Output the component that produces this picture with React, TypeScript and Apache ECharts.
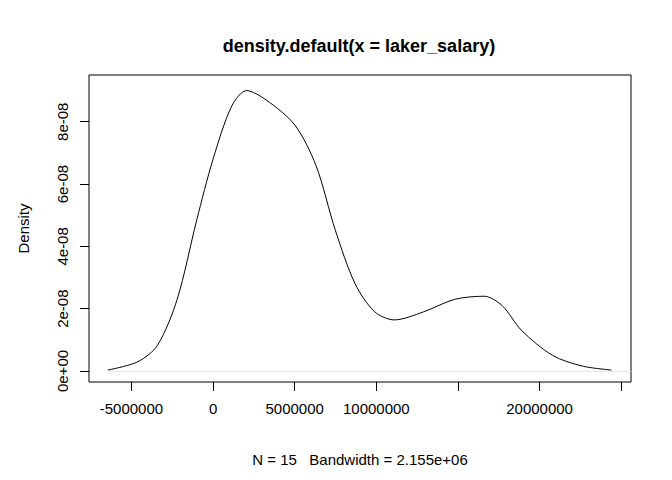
import React, { useEffect, useRef } from 'react';
import * as echarts from 'echarts';

const salaryX = [-6450000, -4600000, -3400000, -2200000, -1000000, 0, 1140000, 2050000, 3250000, 5000000, 6300000, 7500000, 8700000, 9900000, 11100000, 12900000, 14800000, 16600000, 17700000, 18900000, 20800000, 22600000, 24400000];
const densityY = [0.03e-8, 0.3e-8, 0.83e-8, 2.3e-8, 4.85e-8, 6.8e-8, 8.5e-8, 9.0e-8, 8.7e-8, 7.9e-8, 6.6e-8, 4.5e-8, 2.8e-8, 1.9e-8, 1.64e-8, 1.9e-8, 2.3e-8, 2.4e-8, 2.1e-8, 1.3e-8, 0.5e-8, 0.16e-8, 0.03e-8];
const xTicks = [-5000000, 0, 5000000, 10000000, 15000000, 20000000, 25000000];
const xLabels = [-5000000, 0, 5000000, 10000000, 20000000];
const yTicks = [0, 2e-8, 4e-8, 6e-8, 8e-8];
const yLabels = ['0e+00', '2e-08', '4e-08', '6e-08', '8e-08'];

const FONT = 'Liberation Sans, Arial, sans-serif';

const App: React.FC = () => {
    const chartRef = useRef<HTMLDivElement>(null);

    useEffect(() => {
        if (!chartRef.current) return;
        const chart = echarts.init(chartRef.current, undefined, { renderer: 'svg' });

        chart.setOption({
            animation: false,
            backgroundColor: '#fff',
            title: {
                text: 'density.default(x = laker_salary)',
                left: 346, top: 24, textAlign: 'center',
                textStyle: { fontFamily: FONT, fontSize: 18, fontWeight: 'bold', color: '#000' }
            },
            grid: { left: 70, right: 33, top: 67, bottom: 90, show: true, borderColor: '#000', borderWidth: 1 },
            xAxis: {
                type: 'value', min: -7600000, max: 25600000,
                name: 'N = 15   Bandwidth = 2.155e+06', nameLocation: 'middle', nameGap: 70,
                nameTextStyle: { fontFamily: FONT, fontSize: 15, color: '#000' },
                splitLine: { show: false }, axisLine: { show: false, onZero: false },
                axisTick: { show: true, length: 9, customValues: xTicks, lineStyle: { color: '#000' } },
                axisLabel: { customValues: xLabels, margin: 19, fontFamily: FONT, fontSize: 15, color: '#000', formatter: (v: number) => String(v) }
            },
            yAxis: {
                type: 'value', min: -0.353e-8, max: 9.5e-8,
                name: 'Density', nameLocation: 'middle', nameGap: 58, nameRotate: 90,
                nameTextStyle: { fontFamily: FONT, fontSize: 15, color: '#000' },
                splitLine: { show: false }, axisLine: { show: false, onZero: false },
                axisTick: { show: true, length: 9, customValues: yTicks, lineStyle: { color: '#000' } },
                axisLabel: {
                    customValues: yTicks, rotate: 90, margin: 19, fontFamily: FONT, fontSize: 15, color: '#000',
                    formatter: (v: number) => yLabels[yTicks.findIndex(t => Math.abs(t - v) < 1e-10)] ?? ''
                }
            },
            series: [{
                type: 'line', smooth: 0.3, symbol: 'none',
                lineStyle: { color: '#000', width: 1 },
                data: salaryX.map((x, i) => [x, densityY[i]]),
                markLine: {
                    silent: true, symbol: 'none', label: { show: false },
                    lineStyle: { color: '#e6e6e6', width: 1, type: 'solid' },
                    data: [[{ coord: [-6450000, 0] }, { coord: [25600000, 0] }]]
                }
            }]
        });

        return () => chart.dispose();
    }, []);

    return <div ref={chartRef} style={{ width: 656, height: 464 }} />;
};

export default App;
